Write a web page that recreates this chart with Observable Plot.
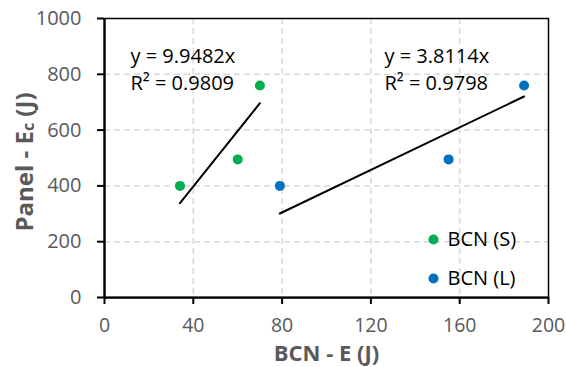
<!DOCTYPE html>
<html>
<head>
<meta charset="utf-8">
<script src="https://cdn.jsdelivr.net/npm/d3@7"></script>
<script src="https://cdn.jsdelivr.net/npm/@observablehq/plot@0.6"></script>
<style>
  html, body { margin: 0; padding: 0; background: #fff; }
  svg { font-family: "Open Sans", sans-serif; }
</style>
</head>
<body>
<div id="chart"></div>
<script>
// Data
const seriesNames = ["BCN (S)", "BCN (L)"];
const seriesColors = ["#00b050", "#0070c0"];
const bcnS_x = [34, 60, 70];
const bcnS_y = [400, 495, 760];
const bcnL_x = [79, 155, 189];
const bcnL_y = [400, 495, 760];
const slopes = [9.9482, 3.8114];
const r2 = [0.9809, 0.9798];
const xTicks = [0, 40, 80, 120, 160, 200];
const yTicks = [0, 200, 400, 600, 800, 1000];

const series = [
  {name: seriesNames[0], color: seriesColors[0], xs: bcnS_x, ys: bcnS_y, slope: slopes[0], r2: r2[0]},
  {name: seriesNames[1], color: seriesColors[1], xs: bcnL_x, ys: bcnL_y, slope: slopes[1], r2: r2[1]}
];
const points = series.flatMap(s => s.xs.map((x, i) => ({series: s.name, color: s.color, x, y: s.ys[i]})));
const trends = series.flatMap(s => {
  const x0 = d3.min(s.xs), x1 = d3.max(s.xs);
  return [{series: s.name, x: x0, y: s.slope * x0}, {series: s.name, x: x1, y: s.slope * x1}];
});

const gray = "#595959";
const fs = 20;
const font = "Open Sans, sans-serif";

const plot = Plot.plot({
  width: 566,
  height: 367,
  marginLeft: 104,
  marginRight: 18,
  marginTop: 18,
  marginBottom: 70,
  style: {fontFamily: font, background: "#fff", overflow: "visible"},
  x: {domain: [0, 200]},
  y: {domain: [0, 1000]},
  marks: [
    Plot.gridX(xTicks.slice(1, -1), {stroke: "#d9d9d9", strokeOpacity: 1, strokeWidth: 1.5, strokeDasharray: "6,4"}),
    Plot.gridY(yTicks.slice(1, -1), {stroke: "#d9d9d9", strokeOpacity: 1, strokeWidth: 1.5, strokeDasharray: "6,4"}),
    Plot.frame({stroke: "black", strokeWidth: 1.5}),
    Plot.ruleX([0], {stroke: "black", strokeWidth: 2.25}),
    Plot.ruleY([0], {stroke: "black", strokeWidth: 2.25}),
    Plot.axisX({ticks: xTicks, tickFormat: d => String(d), tickSize: 7, tickPadding: 14, stroke: "black", strokeWidth: 2, fill: gray, fontSize: 19.5, label: null}),
    Plot.axisY({ticks: yTicks, tickFormat: d => String(d), tickSize: 7, tickPadding: 16, stroke: "black", strokeWidth: 2, fill: gray, fontSize: fs, label: null}),
    Plot.line(trends, {x: "x", y: "y", z: "series", stroke: "black", strokeWidth: 2}),
    Plot.dot(points, {x: "x", y: "y", r: 5, fill: "color", stroke: null}),
    // equations
    Plot.text([`y = ${slopes[0]}x`], {x: 11.7, y: 862, text: d => d, textAnchor: "start", lineAnchor: "middle", fontSize: fs, fill: "black"}),
    Plot.text([`R² = ${r2[0]}`], {x: 11.7, y: 765, text: d => d, textAnchor: "start", lineAnchor: "middle", fontSize: fs, fill: "black"}),
    Plot.text([`y = ${slopes[1]}x`], {x: 126.1, y: 862, text: d => d, textAnchor: "start", lineAnchor: "middle", fontSize: fs, fill: "black"}),
    Plot.text([`R² = ${r2[1]}`], {x: 126.1, y: 765, text: d => d, textAnchor: "start", lineAnchor: "middle", fontSize: fs, fill: "black"}),
    // legend
    Plot.dot(seriesNames, {x: 148.2, y: (d, i) => [208, 68][i], r: 5, fill: (d, i) => seriesColors[i], stroke: null}),
    Plot.text(seriesNames, {x: 154.5, y: (d, i) => [208, 68][i], text: d => d, textAnchor: "start", lineAnchor: "middle", fontSize: fs, fill: "black"}),
    // x title
    Plot.text(["BCN - E (J)"], {frameAnchor: "bottom", dy: 56, text: d => d, lineAnchor: "middle", fontSize: 22, fontWeight: "bold", fill: gray})
  ]
});

// y title with subscript
const svg = d3.select(plot);
const yt = svg.append("text")
  .attr("transform", "translate(23,162) rotate(-90)")
  .attr("text-anchor", "middle")
  .attr("dominant-baseline", "central")
  .attr("font-family", font)
  .attr("font-size", 24)
  .attr("font-weight", "bold")
  .attr("fill", gray);
yt.append("tspan").text("Panel - E");
yt.append("tspan").attr("font-size", 16).attr("dy", "0.3em").text("c");
yt.append("tspan").attr("dy", "-0.2em").text(" (J)");

document.getElementById("chart").appendChild(plot);
</script>
</body>
</html>
